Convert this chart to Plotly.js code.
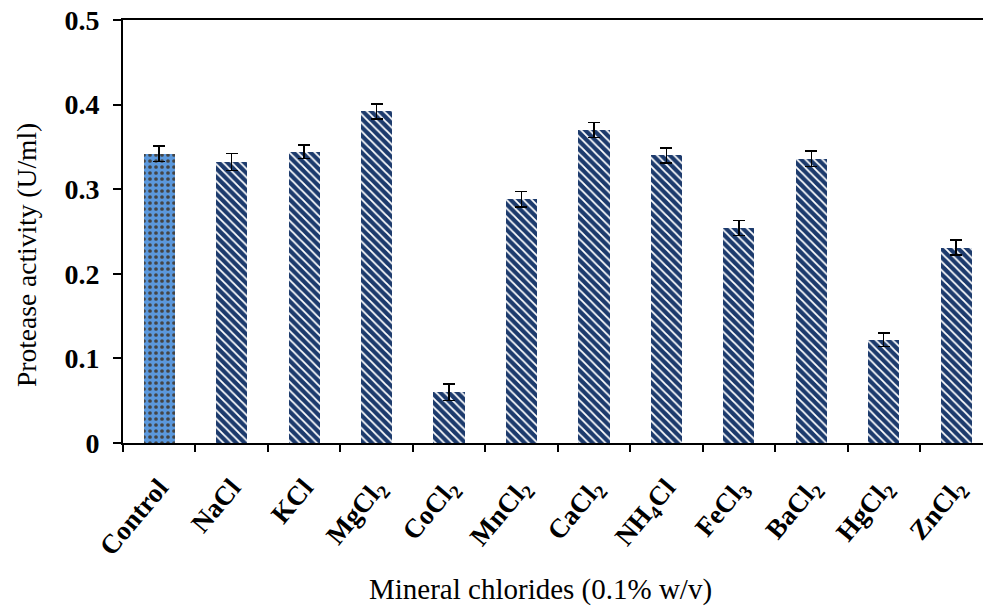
<!DOCTYPE html>
<html>
<head>
<meta charset="utf-8">
<script src="https://cdn.plot.ly/plotly-3.0.1.min.js"></script>
<style>html,body{margin:0;padding:0;background:#fff;}#chart{width:983px;height:606px;}</style>
</head>
<body>
<div id="chart"></div>
<script>
const categories = ["Control","NaCl","KCl","MgCl<sub>2</sub>","CoCl<sub>2</sub>","MnCl<sub>2</sub>","CaCl<sub>2</sub>","NH<sub>4</sub>Cl","FeCl<sub>3</sub>","BaCl<sub>2</sub>","HgCl<sub>2</sub>","ZnCl<sub>2</sub>"];
const activity = [0.342, 0.332, 0.344, 0.392, 0.060, 0.288, 0.370, 0.340, 0.254, 0.336, 0.122, 0.231];
const errors = [0.009, 0.010, 0.008, 0.009, 0.010, 0.009, 0.009, 0.009, 0.009, 0.009, 0.008, 0.009];
const yTicks = [0, 0.1, 0.2, 0.3, 0.4, 0.5];
const yTickLabels = ["0", "0.1", "0.2", "0.3", "0.4", "0.5"];
const xTitle = "Mineral chlorides (0.1% w/v)";
const yTitle = "Protease activity (U/ml)";

const serif = "Liberation Serif, Times New Roman, serif";

const bgColors = categories.map((c, i) => i === 0 ? "#5b98dc" : "#1c3a6c");
const fgColors = categories.map((c, i) => i === 0 ? "#2f62a8" : "#5582bf");
const shapes = categories.map((c, i) => i === 0 ? "." : "\\");

const trace = {
  type: "bar",
  x: categories,
  y: activity,
  width: 0.43,
  marker: {
    color: bgColors,
    line: {width: 0},
    pattern: {shape: shapes, fgcolor: fgColors, fgopacity: 1, size: 6, solidity: 0.3, fillmode: "overlay"}
  },
  error_y: {type: "data", array: errors, visible: true, color: "#000", thickness: 1.5, width: 6},
  hoverinfo: "none"
};

const layout = {
  width: 983, height: 606,
  margin: {l: 123, r: 0, t: 20, b: 163},
  paper_bgcolor: "#fff", plot_bgcolor: "#fff",
  showlegend: false,
  bargap: 0,
  xaxis: {
    type: "category",
    range: [-0.5, 11.37],
    tickson: "boundaries",
    ticks: "outside", ticklen: 7, tickwidth: 2, tickcolor: "#000",
    showline: true, linecolor: "#000", linewidth: 2, mirror: true,
    showgrid: false, zeroline: false,
    tickangle: -50,
    ticklabelstandoff: 16,
    tickfont: {family: serif, size: 27, color: "#000", weight: "bold"},
    automargin: false
  },
  yaxis: {
    range: [0, 0.5],
    tickvals: yTicks, ticktext: yTickLabels,
    ticks: "outside", ticklen: 8, tickwidth: 2, tickcolor: "#000",
    showline: true, linecolor: "#000", linewidth: 2,
    showgrid: false, zeroline: false,
    ticklabelstandoff: 8,
    tickfont: {family: serif, size: 28, color: "#000", weight: "bold"},
    automargin: false
  },
  annotations: [
    {text: xTitle, xref: "paper", yref: "paper", x: 0.486, y: -0.3475, xanchor: "center", yanchor: "middle",
     showarrow: false, font: {family: serif, size: 29, color: "#000"}},
    {text: yTitle, xref: "paper", yref: "paper", x: -0.1128, y: 0.4444, xanchor: "center", yanchor: "middle",
     textangle: -90, showarrow: false, font: {family: serif, size: 27.5, color: "#000"}}
  ]
};

Plotly.newPlot("chart", [trace], layout, {displayModeBar: false, staticPlot: true});
</script>
</body>
</html>
